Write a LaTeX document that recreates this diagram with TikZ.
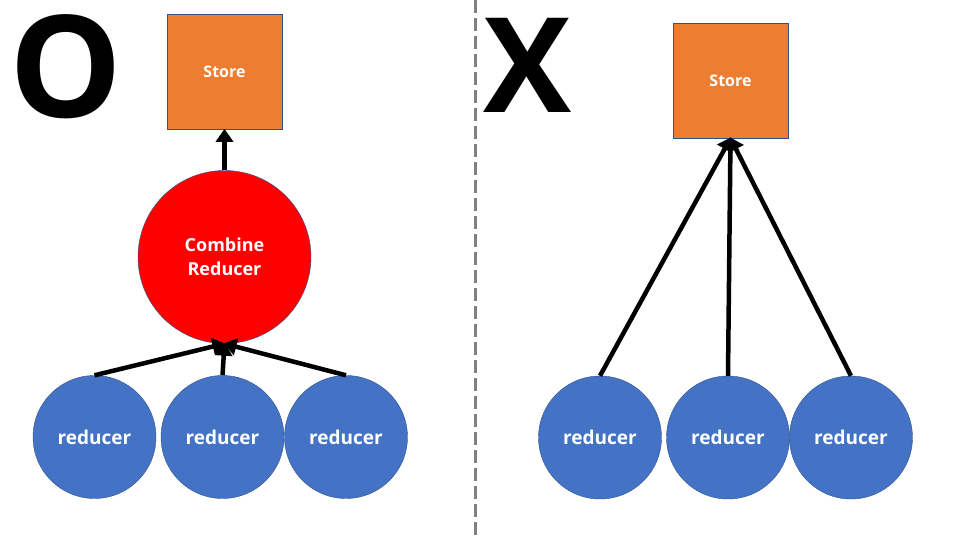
\documentclass[tikz,border=0pt]{standalone}
\usepackage{fontspec}
\setmainfont{Open Sans}
\usetikzlibrary{arrows.meta}
\definecolor{storeor}{HTML}{ED7D31}
\definecolor{redblue}{HTML}{4472C4}
\definecolor{edgeblue}{HTML}{2F528F}
\definecolor{dashgray}{HTML}{808080}
\tikzset{
  storebox/.style={draw=edgeblue, line width=0.6pt, fill=storeor, minimum width=115pt, minimum height=115pt, inner sep=0pt, text=white, font=\fontsize{16}{18}\selectfont\bfseries},
  redcirc/.style={circle, draw=edgeblue, line width=0.4pt, fill=redblue, minimum size=123pt, inner sep=0pt, text=white, font=\fontsize{19}{20}\selectfont\bfseries},
  combcirc/.style={circle, draw=edgeblue, line width=0.4pt, fill=red, minimum size=173pt, inner sep=0pt, text=white, align=center, font=\fontsize{18}{24}\selectfont\bfseries},
  bigletter/.style={inner sep=0pt, font=\fontsize{142}{142}\selectfont\bfseries, anchor=center},
  conn/.style={line width=4.5pt, -{Triangle[width=17pt,length=13pt]}, shorten >=-1pt}
}
\begin{document}
\begin{tikzpicture}[x=1pt,y=-1pt]
\useasboundingbox (0,0) rectangle (960,540);
% divider
\coordinate (dtop) at (475,0);
\coordinate (dbot) at (475,540);
\draw[dashgray, line width=3pt, dash pattern=on 13pt off 5pt] (dtop) -- (dbot);
% left
\node[bigletter] (O) at (66,67) {O};
\node[storebox] (storeL) at (224.5,72) {Store};
\node[combcirc] (comb) at (224.5,257) {Combine\\Reducer};
\node[redcirc] (rL1) at (94.5,437) {reducer};
\node[redcirc] (rL2) at (222.5,437) {reducer};
\node[redcirc] (rL3) at (346,437) {reducer};
\draw[conn] (comb.north) -- (storeL.south);
\draw[conn] (rL1.north) -- (comb.south);
\draw[conn] (rL2.north) -- (comb.south);
\draw[conn] (rL3.north) -- (comb.south);
% right
\node[bigletter, font=\fontsize{132}{132}\selectfont\bfseries] (X) at (528,65) {X};
\node[storebox] (storeR) at (730.5,80.5) {Store};
\node[redcirc] (rR1) at (600,437.5) {reducer};
\node[redcirc] (rR2) at (728,437.5) {reducer};
\node[redcirc] (rR3) at (851,437.5) {reducer};
\draw[conn] (rR1.north) -- (storeR.south);
\draw[conn] (rR2.north) -- (storeR.south);
\draw[conn] (rR3.north) -- (storeR.south);
\end{tikzpicture}
\end{document}
